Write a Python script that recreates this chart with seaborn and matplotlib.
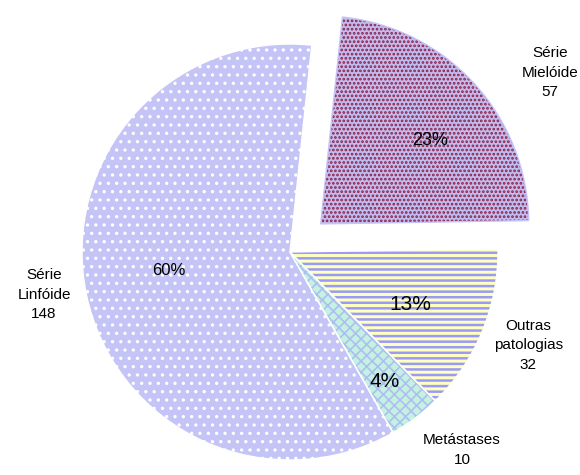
import matplotlib
matplotlib.use("Agg")
import matplotlib.pyplot as plt
import numpy as np
import seaborn as sns

sns.set_theme(style="white")
plt.rcParams["font.family"] = ["Liberation Sans", "DejaVu Sans"]

# Case counts per diagnostic group
categories = ["Série\nMielóide", "Outras\npatologias", "Metástases", "Série\nLinfóide"]
counts = [57, 32, 10, 148]

face_colors = ["#c2bcee", "#ffffbe", "#c4f2e0", "#c4c4f6"]
hatch_colors = ["#8c2048", "#9a9af8", "#aebef2", "#ffffff"]
hatches = ["....", "---", "xxx", ".."]
hatch_widths = [1.3, 1.8, 1.2, 1.2]
outline_colors = ["#c4c4fa", "#ffffff", "#ffffff", "#ffffff"]
explode = [0.2, 0, 0, 0]
start = 84

fig = plt.figure(figsize=(5.8, 4.75), dpi=100)
ax = fig.add_axes([0, 0, 1, 1])

# Filled, patterned wedges
wedges, _ = ax.pie(counts, explode=explode, startangle=start, counterclock=False,
                   colors=face_colors, radius=1.0,
                   wedgeprops=dict(linewidth=0))
for w, h, hc, hw in zip(wedges, hatches, hatch_colors, hatch_widths):
    w.set_hatch(h)
    w.set_edgecolor(hc)
    w.set_linewidth(0)
    try:
        w.set_hatch_linewidth(hw)
    except AttributeError:
        pass

# Outlines drawn on top
outl, _ = ax.pie(counts, explode=explode, startangle=start, counterclock=False,
                 radius=1.0, wedgeprops=dict(fill=False, linewidth=1.0))
for w, c in zip(outl, outline_colors):
    w.set_edgecolor(c)

# Category labels and percentages, positioned from each wedge's angle
total = sum(counts)
label_r = [1.32, 1.23, 1.26, 1.20]
label_shift = [-9, 1, 4, -2]
pct_r = [0.66, 0.63, 0.77, 0.59]
pct_shift = [-5, -1, -1, -3]
pct_size = [13, 15, 15, 12]
for w, cat, n, lr, ls, pr, ps, psz in zip(wedges, categories, counts, label_r,
                                          label_shift, pct_r, pct_shift, pct_size):
    mid = np.deg2rad((w.theta1 + w.theta2) / 2)
    cx, cy = w.center
    ang = mid + np.deg2rad(ls)
    ax.text(cx + lr * np.cos(ang), cy + lr * np.sin(ang), f"{cat}\n{n}",
            ha="center", va="center", fontsize=11, linespacing=1.5, color="black")
    ang = mid + np.deg2rad(ps)
    ax.text(cx + pr * np.cos(ang), cy + pr * np.sin(ang), f"{n / total * 100:.0f}%",
            ha="center", va="center", fontsize=psz, color="black")

R = 208.0
ax.set_xlim(-290 / R, 290 / R)
ax.set_ylim(-223 / R, 252 / R)
ax.set_aspect("equal")
ax.axis("off")

fig.savefig("out.png", dpi=100, facecolor="white")
